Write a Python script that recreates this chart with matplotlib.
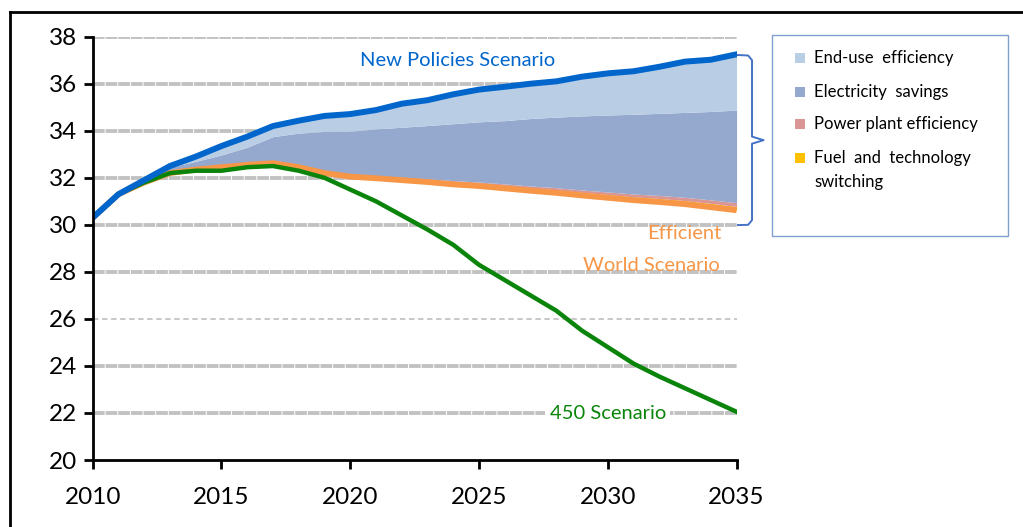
import numpy as np
import matplotlib
matplotlib.use('Agg')
import matplotlib.pyplot as plt
from matplotlib.lines import Line2D
from matplotlib.patches import Rectangle


##########################################################################################
#Data: energy-related CO2 emissions (Gt), 2010-2035

years = np.arange(2010, 2036)

#Efficient World Scenario (bottom of the savings stack)
efficient_world = [30.3, 31.3, 31.8, 32.2, 32.35, 32.45, 32.55, 32.62, 32.45, 32.2,
				   32.05, 31.98, 31.9, 31.82, 31.72, 31.65, 31.55, 31.45, 31.36, 31.25,
				   31.15, 31.05, 30.97, 30.88, 30.75, 30.62]

#Savings wedges between Efficient World and New Policies
fuel_switching = [0, 0, 0, 0, 0.02, 0.03, 0.04, 0.05, 0.06, 0.07,
				  0.08, 0.09, 0.10, 0.10, 0.11, 0.11, 0.12, 0.12, 0.13, 0.13,
				  0.14, 0.14, 0.15, 0.15, 0.16, 0.16]
power_plant = [0, 0, 0, 0, 0, 0, 0, 0, 0, 0,
			   0.01, 0.02, 0.03, 0.04, 0.05, 0.06, 0.07, 0.08, 0.09, 0.10,
			   0.11, 0.12, 0.13, 0.14, 0.15, 0.16]
electricity_savings = [0, 0, 0.05, 0.25, 0.33, 0.49, 0.71, 1.08, 1.39, 1.70,
					   1.84, 1.99, 2.12, 2.26, 2.42, 2.56, 2.69, 2.87, 3.00, 3.15,
					   3.27, 3.39, 3.49, 3.61, 3.76, 3.94]
end_use = [0, 0, 0.05, 0.05, 0.20, 0.38, 0.45, 0.45, 0.53, 0.66,
		   0.73, 0.80, 1.00, 1.08, 1.25, 1.37, 1.44, 1.48, 1.52, 1.67,
		   1.77, 1.83, 1.98, 2.16, 2.20, 2.37]

#450 Scenario
scenario_450 = [30.3, 31.3, 31.8, 32.2, 32.3, 32.3, 32.45, 32.5, 32.3, 32.0,
				31.5, 31.0, 30.4, 29.8, 29.15, 28.3, 27.65, 27.0, 26.35, 25.5,
				24.8, 24.1, 23.55, 23.05, 22.55, 22.05]

wedge_labels = ['End-use  efficiency', 'Electricity  savings', 'Power plant efficiency',
				'Fuel  and  technology\nswitching']
wedge_colors = ['#B9CDE5', '#95A9CE', '#D99694', '#FFC000']

y_ticks = [20, 22, 24, 26, 28, 30, 32, 34, 36, 38]
x_ticks = [2010, 2015, 2020, 2025, 2030, 2035]


##########################################################################################
#Figure

plt.rcParams['font.family'] = ['Lato', 'DejaVu Sans']

fig = plt.figure(figsize=(10.23, 5.27), dpi=100)
ax = fig.add_axes([0.0906, 0.1271, 0.6294, 0.8033])

ax.set_xlim(2010, 2035)
ax.set_ylim(20, 38)

#Gridlines (26 is drawn thinner, the rest heavy)
for y in y_ticks[1:]:
	if y == 26:
		ax.axhline(y, color='#C4C4C4', lw=1.3, ls=(0, (3, 2)), zorder=0)
	else:
		ax.axhline(y, color='#C2C2C2', lw=2.8, ls=(0, (3, 0.25)), zorder=0)

#Stacked savings areas
ews = np.array(efficient_world)
fuel_top = ews + np.array(fuel_switching)
plant_top = fuel_top + np.array(power_plant)
elec_top = plant_top + np.array(electricity_savings)
new_policies = elec_top + np.array(end_use)

ax.fill_between(years, ews, fuel_top, color=wedge_colors[3], lw=0, zorder=1)
ax.fill_between(years, fuel_top, plant_top, color=wedge_colors[2], lw=0, zorder=1)
ax.fill_between(years, plant_top, elec_top, color=wedge_colors[1], lw=0, zorder=1)
ax.fill_between(years, elec_top, new_policies, color=wedge_colors[0], lw=0, zorder=1)

#Scenario lines
ax.plot(years, ews, color='#F79646', lw=4.2, zorder=2, solid_capstyle='butt')
ax.plot(years, scenario_450, color='#0A840A', lw=3.2, zorder=3)
ax.plot(years, new_policies, color='#0066CC', lw=4.3, zorder=4)

#Scenario labels
label_size = 14.5
ax.text(2024.15, 36.97, 'New Policies Scenario', color='#0066CC', fontsize=label_size,
		ha='center', va='center')
ax.text(2034.4, 29.65, 'Efficient', color='#F79646', fontsize=label_size, ha='right', va='center')
ax.text(2034.35, 28.25, 'World Scenario', color='#F79646', fontsize=label_size, ha='right', va='center')
ax.text(2030.0, 21.99, '450 Scenario', color='#0A840A', fontsize=label_size, ha='center', va='center',
		bbox=dict(facecolor='white', edgecolor='none', pad=3), zorder=5)

#Axes styling
for side in ['top', 'right']:
	ax.spines[side].set_visible(False)
for side in ['left', 'bottom']:
	ax.spines[side].set_linewidth(2.0)
	ax.spines[side].set_zorder(6)

ax.set_yticks(y_ticks)
ax.set_xticks(x_ticks)
ax.tick_params(axis='both', direction='out', length=6.5, width=2, labelsize=17.5, colors='black')
ax.tick_params(axis='y', pad=5)
ax.tick_params(axis='x', pad=13)

#Bracket tying the wedges to the legend
bx = [2035.05, 2035.45, 2035.6, 2035.6, 2036.05, 2035.6, 2035.6, 2035.45, 2035.05]
by = [37.22, 37.2, 37.0, 33.75, 33.6, 33.45, 30.2, 30.0, 29.99]
ax.plot(bx, by, color='#4472C4', lw=1.4, clip_on=False, zorder=6)

#Legend box, drawn in figure pixels
W, H = 1023.0, 527.0
def fx(px):
	return px / W
def fy(py):
	return 1 - py / H

fig.add_artist(Rectangle((fx(772), fy(236)), fx(1008) - fx(772), fy(35) - fy(236),
						 transform=fig.transFigure, facecolor='white', edgecolor='#7F9FCF', lw=1))

legend_rows = [58, 91.5, 124, 158]
for i, (label, color) in enumerate(zip(wedge_labels, wedge_colors)):
	fig.add_artist(Rectangle((fx(795), fy(legend_rows[i] + 5)), fx(10), 10 / H,
							 transform=fig.transFigure, facecolor=color, edgecolor='none'))
	if '\n' in label:
		first, second = label.split('\n')
		fig.text(fx(814), fy(legend_rows[i]), first, fontsize=12, va='center', ha='left')
		fig.text(fx(814), fy(181.5), second, fontsize=12, va='center', ha='left')
	else:
		fig.text(fx(814), fy(legend_rows[i]), label, fontsize=12, va='center', ha='left')

#Outer frame
fig.add_artist(Line2D([fx(10), 1.0], [fy(12), fy(12)], color='black', lw=2, transform=fig.transFigure))
fig.add_artist(Line2D([fx(10), fx(10)], [fy(12), 0.0], color='black', lw=2, transform=fig.transFigure))

fig.savefig('out.png', dpi=100)
